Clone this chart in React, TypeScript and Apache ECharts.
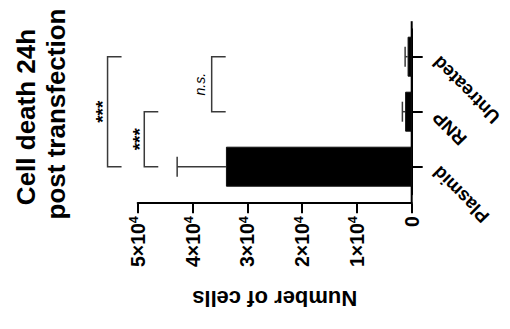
import React, { useEffect, useRef } from 'react';
import * as echarts from 'echarts';

const categories = ['Plasmid', 'RNP', 'Untreated'];
const meanValues = [33900, 1200, 750];
const upperErrorValues = [42800, 1700, 1200];
const valueTicks = [0, 10000, 20000, 30000, 40000, 50000];
const bracketFrom = [0, 0, 1];
const bracketTo = [2, 1, 2];
const bracketLevels = [55500, 48800, 36500];
const bracketLabels = ['***', '***', 'n.s.'];
const titleLines = ['Cell death 24h', 'post transfection'];
const valueAxisName = 'Number of cells';

const FONT = '"Liberation Sans", Arial, Helvetica, sans-serif';
const W = 510;
const H = 329;
const GRID_LEFT = 137.7;
const GRID_RIGHT = 98.3;
const GRID_TOP = 29.2;
const GRID_BOTTOM = 134.8;
const X_AXIS_OFFSET = 9;

export default function App() {
  const ref = useRef<HTMLDivElement>(null);

  useEffect(() => {
    if (!ref.current) return;
    const chart = echarts.init(ref.current, undefined, { renderer: 'svg' });
    const axisX = W - GRID_RIGHT;
    const bottomY = H - GRID_BOTTOM;

    const textStyle = (extra: any) => ({
      fill: '#000',
      fontFamily: FONT,
      ...extra,
    });

    const option: any = {
      animation: false,
      backgroundColor: '#ffffff',
      textStyle: { fontFamily: FONT },
      grid: { left: GRID_LEFT, right: GRID_RIGHT, top: GRID_TOP, bottom: GRID_BOTTOM, containLabel: false },
      xAxis: {
        type: 'value',
        inverse: true,
        min: valueTicks[0],
        max: valueTicks[valueTicks.length - 1],
        interval: valueTicks[1] - valueTicks[0],
        position: 'bottom',
        offset: X_AXIS_OFFSET,
        name: valueAxisName,
        nameLocation: 'middle',
        nameRotate: 180,
        nameGap: 84,
        nameTextStyle: { fontSize: 22, fontWeight: 'bold', color: '#000', fontFamily: FONT },
        axisLine: { show: true, lineStyle: { color: '#000', width: 2 } },
        axisTick: { show: true, length: 10, lineStyle: { color: '#000', width: 2 } },
        splitLine: { show: false },
        axisLabel: {
          rotate: 90,
          margin: 13,
          color: '#000',
          formatter: (v: number) => (v === 0 ? '{b|0}' : `{b|${v / 10000}×10}{s|4}`),
          rich: {
            b: { fontSize: 19.5, fontWeight: 'bold', color: '#000', fontFamily: FONT },
            s: { fontSize: 12.5, fontWeight: 'bold', color: '#000', fontFamily: FONT, verticalAlign: 'top' },
          },
        },
      },
      yAxis: {
        type: 'category',
        data: categories,
        position: 'right',
        axisLine: { show: true, lineStyle: { color: '#000', width: 2 } },
        axisTick: { show: true, alignWithLabel: true, length: 11, lineStyle: { color: '#000', width: 2 } },
        axisLabel: { show: false },
        splitLine: { show: false },
      },
      graphic: [
        {
          type: 'text',
          x: 26,
          y: 117,
          rotation: Math.PI / 2,
          style: textStyle({
            text: titleLines[0],
            fontSize: 26,
            fontWeight: 'bold',
            textAlign: 'center',
            textVerticalAlign: 'middle',
            align: 'center',
            verticalAlign: 'middle',
          }),
        },
        {
          type: 'text',
          x: 56,
          y: 114,
          rotation: Math.PI / 2,
          style: textStyle({
            text: titleLines[1],
            fontSize: 26,
            fontWeight: 'bold',
            textAlign: 'center',
            textVerticalAlign: 'middle',
            align: 'center',
            verticalAlign: 'middle',
          }),
        },
        {
          type: 'line',
          shape: { x1: axisX, y1: GRID_TOP - 8, x2: axisX, y2: bottomY + X_AXIS_OFFSET },
          style: { stroke: '#000', lineWidth: 2 },
        },
      ],
      series: [
        {
          type: 'custom',
          name: 'error',
          itemStyle: { color: '#3a3a3a' },
          data: categories.map((_, i) => [meanValues[i], i, upperErrorValues[i]]),
          encode: { x: [0, 2], y: 1 },
          renderItem: (params: any, api: any) => {
            const cat = api.value(1);
            const p0 = api.coord([api.value(0), cat]);
            const p1 = api.coord([api.value(2), cat]);
            const half = 10;
            const st = { stroke: '#3a3a3a', lineWidth: 1.5, fill: 'none' };
            return {
              type: 'group',
              children: [
                { type: 'line', shape: { x1: p0[0], y1: p0[1], x2: p1[0], y2: p1[1] }, style: st },
                { type: 'line', shape: { x1: p1[0], y1: p1[1] - half, x2: p1[0], y2: p1[1] + half }, style: st },
              ],
            };
          },
          z: 1,
        },
        {
          type: 'bar',
          name: 'mean',
          data: meanValues,
          barWidth: 40,
          itemStyle: { color: '#000', borderColor: '#111', borderWidth: 1 },
          z: 2,
        },
        {
          type: 'custom',
          name: 'brackets',
          itemStyle: { color: '#000' },
          data: bracketLevels.map((lv, i) => [lv, bracketFrom[i], bracketTo[i]]),
          encode: { x: 0, y: [1, 2] },
          renderItem: (params: any, api: any) => {
            const lv = api.value(0);
            const pA = api.coord([lv, api.value(1)]);
            const pB = api.coord([lv, api.value(2)]);
            const arm = 14;
            const x = pA[0];
            const label = bracketLabels[params.dataIndex];
            const stars = label.indexOf('*') >= 0;
            const midY = (pA[1] + pB[1]) / 2;
            return {
              type: 'group',
              children: [
                {
                  type: 'polyline',
                  shape: { points: [[x + arm, pB[1]], [x, pB[1]], [x, pA[1]], [x + arm, pA[1]]] },
                  style: { stroke: '#3a3a3a', lineWidth: 1.5, fill: 'none' },
                },
                {
                  type: 'text',
                  x: stars ? x - 5 : x - 12,
                  y: midY,
                  rotation: Math.PI / 2,
                  style: {
                    text: label,
                    fontSize: stars ? 19 : 14,
                    fontStyle: stars ? 'normal' : 'italic',
                    fontWeight: stars ? 'bold' : 'normal',
                    fontFamily: FONT,
                    fill: '#000',
                    textFill: '#000',
                    textAlign: 'center',
                    textVerticalAlign: 'middle',
                    align: 'center',
                    verticalAlign: 'middle',
                  },
                },
              ],
            };
          },
          z: 3,
        },
        {
          type: 'custom',
          name: 'categoryLabels',
          itemStyle: { color: '#000' },
          data: categories.map((_, i) => [0, i]),
          encode: { x: 0, y: 1 },
          renderItem: (params: any, api: any) => {
            const p = api.coord([api.value(0), api.value(1)]);
            return {
              type: 'text',
              x: p[0] + 24,
              y: p[1] + 3,
              rotation: (3 * Math.PI) / 4,
              style: {
                text: categories[params.dataIndex],
                fontSize: 18.5,
                fontWeight: 'bold',
                fontFamily: FONT,
                fill: '#000',
                textFill: '#000',
                textAlign: 'right',
                textVerticalAlign: 'middle',
                align: 'right',
                verticalAlign: 'middle',
              },
            };
          },
          z: 3,
        },
      ],
    };
    chart.setOption(option);
    return () => chart.dispose();
  }, []);

  return (
    <div
      ref={ref}
      style={{ position: 'absolute', left: 0, top: 0, width: W, height: H, background: '#fff' }}
    />
  );
}
